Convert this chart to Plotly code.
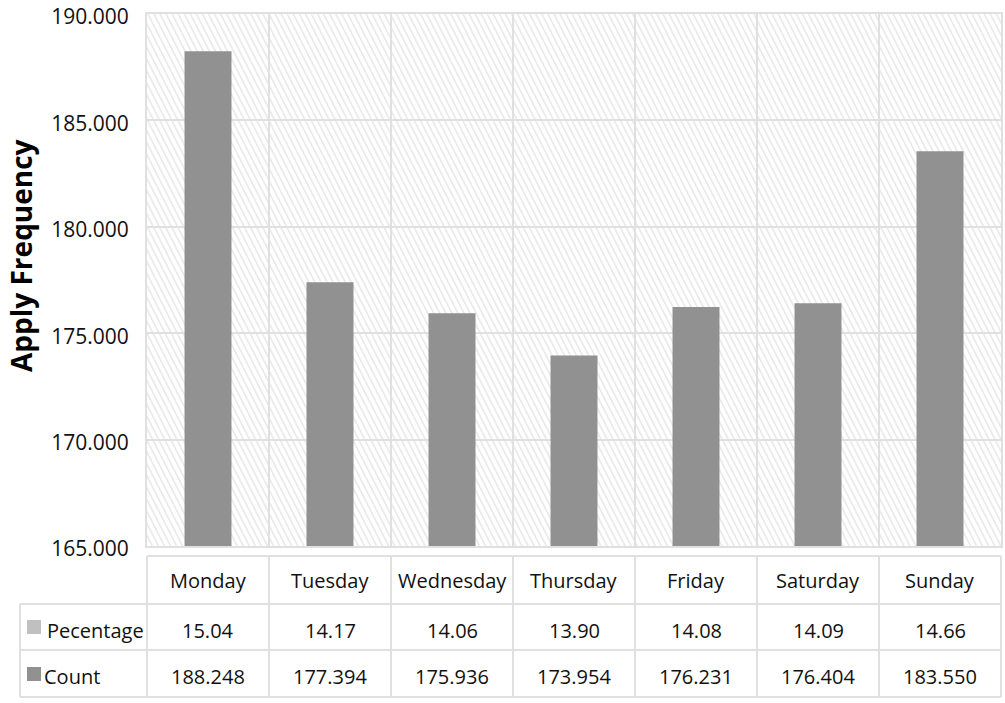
import base64
import plotly.graph_objects as go

# ---- data ----
days = ["Monday", "Tuesday", "Wednesday", "Thursday", "Friday", "Saturday", "Sunday"]
counts = [188248, 177394, 175936, 173954, 176231, 176404, 183550]
percentages = [15.04, 14.17, 14.06, 13.90, 14.08, 14.09, 14.66]
y_ticks = [165000, 170000, 175000, 180000, 185000, 190000]
row_labels = ["Pecentage", "Count"]
y_title = "Apply Frequency"

# ---- layout constants ----
W, H = 1005, 703
ML, MR, MT, MB = 147, 4, 14, 157
PW, PH = W - ML - MR, H - MT - MB
BAR_COLOR = "#919191"
PCT_COLOR = "#c0c0c0"
GRID = "#e0e0e0"
FONT = "Open Sans"


def px_x(x):
    return (x - ML) / PW


def px_y(y):
    return (H - MB - y) / PH


# hatch background as an SVG image
svg = f'''<svg xmlns="http://www.w3.org/2000/svg" width="{PW}" height="{PH}" viewBox="0 0 {PW} {PH}">
<defs><pattern id="h" patternUnits="userSpaceOnUse" width="5.4" height="40" patternTransform="rotate(-27)">
<rect x="0" y="0" width="1.6" height="40" fill="#e8e8e8"/></pattern></defs>
<rect x="0" y="0" width="{PW}" height="{PH}" fill="#ffffff"/>
<rect x="0" y="0" width="{PW}" height="{PH}" fill="url(#h)"/></svg>'''
svg_uri = "data:image/svg+xml;base64," + base64.b64encode(svg.encode()).decode()

fig = go.Figure()
fig.add_trace(go.Bar(x=days, y=counts, width=0.385, marker=dict(color=BAR_COLOR, line=dict(width=0)),
                     name="Count", showlegend=False))

fig.add_layout_image(dict(source=svg_uri, xref="x domain", yref="y domain", x=0, y=1,
                          sizex=1, sizey=1, sizing="stretch", xanchor="left", yanchor="top",
                          layer="below"))

# ---- table (borders + text) ----
shapes = []
line = dict(color=GRID, width=2)
n = len(days)
top, r0, r1, bot = 556, 604, 650, 697
xl = px_x(20)
for k in range(n + 1):
    shapes.append(dict(type="line", xref="paper", yref="paper", x0=k / n, x1=k / n,
                       y0=px_y(top), y1=px_y(bot), line=line))
shapes.append(dict(type="line", xref="paper", yref="paper", x0=xl, x1=xl,
                   y0=px_y(r0), y1=px_y(bot), line=line))
shapes.append(dict(type="line", xref="paper", yref="paper", x0=0, x1=1,
                   y0=px_y(top), y1=px_y(top), line=line))
for yy in (r0, r1, bot):
    shapes.append(dict(type="line", xref="paper", yref="paper", x0=xl, x1=1,
                       y0=px_y(yy), y1=px_y(yy), line=line))
# legend squares
for (y0, y1), col in zip([(620, 634), (667, 681)], [PCT_COLOR, BAR_COLOR]):
    shapes.append(dict(type="rect", xref="paper", yref="paper", x0=px_x(27), x1=px_x(41),
                       y0=px_y(y1), y1=px_y(y0), fillcolor=col, line=dict(width=0)))

annos = []
tfont = dict(family=FONT, size=20, color="#111111")
for d, p, c in zip(days, percentages, counts):
    annos.append(dict(x=d, xref="x", y=px_y(580), yref="paper", text=d, showarrow=False,
                      font=tfont, xanchor="center", yanchor="middle"))
    annos.append(dict(x=d, xref="x", y=px_y(630), yref="paper", text=f"{p:.2f}", showarrow=False,
                      font=tfont, xanchor="center", yanchor="middle"))
    annos.append(dict(x=d, xref="x", y=px_y(676), yref="paper",
                      text=f"{c:,}".replace(",", "."), showarrow=False,
                      font=tfont, xanchor="center", yanchor="middle"))
annos.append(dict(x=px_x(45), xref="paper", y=px_y(630), yref="paper", text=row_labels[0],
                  showarrow=False, font=tfont, xanchor="left", yanchor="middle"))
annos.append(dict(x=px_x(42), xref="paper", y=px_y(676), yref="paper", text=row_labels[1],
                  showarrow=False, font=tfont, xanchor="left", yanchor="middle"))
annos.append(dict(x=px_x(21), xref="paper", y=px_y(256), yref="paper", text=f"<b>{y_title}</b>",
                  textangle=-90, showarrow=False, xanchor="center", yanchor="middle",
                  font=dict(family=FONT, size=28, color="#000000")))

fig.update_layout(
    width=W, height=H,
    margin=dict(l=ML, r=MR, t=MT, b=MB, pad=0, autoexpand=False),
    paper_bgcolor="white", plot_bgcolor="rgba(0,0,0,0)",
    separators=",.",
    showlegend=False,
    shapes=shapes, annotations=annos,
    font=dict(family=FONT, color="#111111"),
)
fig.update_xaxes(type="category", range=[-0.5, n - 0.5], tickson="boundaries",
                 showgrid=True, gridcolor=GRID, gridwidth=2, showticklabels=False, ticks="",
                 showline=True, linecolor=GRID, linewidth=2, mirror=True, zeroline=False,
                 fixedrange=True, automargin=False)
fig.update_yaxes(range=[y_ticks[0], y_ticks[-1]], tickvals=y_ticks, tickformat=",d",
                 showgrid=True, gridcolor=GRID, gridwidth=2, ticks="", ticklabelstandoff=12,
                 ticklabeloverflow="allow", automargin=False, ticklabelshift=3,
                 tickfont=dict(family=FONT, size=21, color="#111111"),
                 showline=True, linecolor=GRID, linewidth=2, mirror=True, zeroline=False,
                 fixedrange=True)

fig.write_html("out.html")
